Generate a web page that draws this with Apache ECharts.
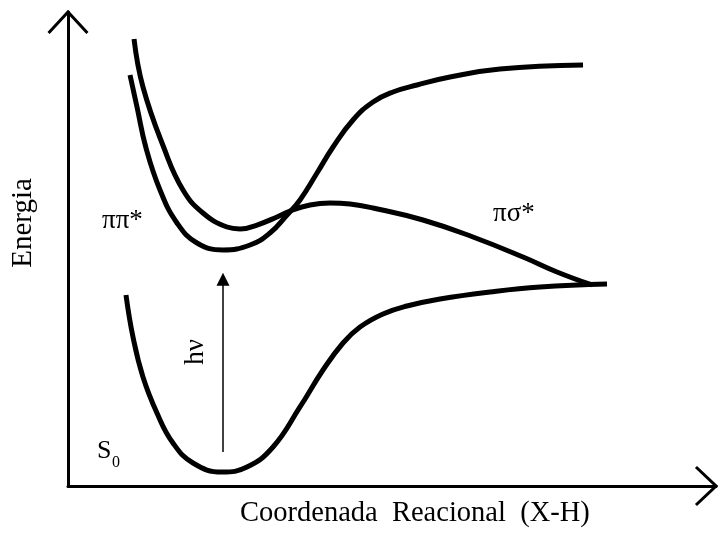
<!DOCTYPE html>
<html>
<head>
<meta charset="utf-8">
<script src="https://cdn.jsdelivr.net/npm/echarts@6/dist/echarts.min.js"></script>
<style>html,body{margin:0;padding:0;background:#fff}#c{width:718px;height:533px}</style>
</head>
<body>
<div id="c"></div>
<script>
// Reaction coordinate (0-100) vs energy (0-100), schematic values
const piSigmaStar = [[10.19,94.30],[11.57,84.18],[14.81,71.31],[17.75,62.45],[20.83,57.59],[24.54,54.64],[26.54,54.22],[29.17,55.06],[32.25,56.75],[34.26,58.02],[37.35,59.28],[40.43,59.70],[43.52,59.49],[47.07,58.65],[54.78,56.12],[62.50,52.53],[70.22,48.31],[75.46,45.15],[80.86,42.41]];
const piPiStar = [[9.57,86.71],[10.65,79.96],[12.04,71.31],[14.20,62.45],[16.82,55.49],[19.91,51.27],[23.92,49.79],[28.09,50.84],[31.17,53.38],[33.80,57.17],[35.80,60.34],[38.43,66.03],[40.90,71.52],[43.98,77.22],[47.07,81.01],[50.15,83.12],[53.86,84.60],[58.95,86.29],[66.67,87.97],[79.48,88.82]];
const groundState = [[8.95,40.30],[10.03,31.43],[11.57,23.00],[13.73,15.40],[16.20,9.07],[19.29,4.85],[23.77,2.95],[27.62,4.01],[31.64,8.23],[35.80,16.67],[39.35,24.47],[42.44,30.17],[45.06,33.54],[48.61,36.29],[52.31,37.97],[57.41,39.45],[65.12,40.93],[72.84,41.98],[83.18,42.62]];
const excitationArrow = [[23.92,7.17],[23.92,43.6]];
const yArrowHead = [[-3,95.57],[0,100],[3,95.57]];
const xArrowHead = [[96.91,4.01],[100,0],[96.91,-4.01]];

const serif = '"Liberation Serif","DejaVu Serif",serif';
const curveStyle = {color:'#000', width:5, cap:'butt'};
function curve(name, data){
  return {name, type:'line', data, smooth:0.45, symbol:'none', showSymbol:false,
    lineStyle:curveStyle, silent:true, animation:false, clip:false, z:3};
}
const chart = echarts.init(document.getElementById('c'), null, {renderer:'canvas'});
chart.setOption({
  backgroundColor:'#fff',
  animation:false,
  grid:{left:68, right:2, top:12, bottom:47},
  xAxis:{type:'value', min:0, max:100, axisLine:{show:true, lineStyle:{color:'#000', width:3}},
    axisTick:{show:false}, axisLabel:{show:false}, splitLine:{show:false}},
  yAxis:{type:'value', min:0, max:100, axisLine:{show:true, lineStyle:{color:'#000', width:3}},
    axisTick:{show:false}, axisLabel:{show:false}, splitLine:{show:false}},
  series:[
    curve('πσ*', piSigmaStar),
    curve('ππ*', piPiStar),
    curve('S0', groundState),
    {type:'lines', coordinateSystem:'cartesian2d', silent:true, animation:false,
      symbol:['none','triangle'], symbolSize:[10,13],
      lineStyle:{color:'#000', width:1.5, opacity:1, curveness:0},
      data:[{coords:excitationArrow}], z:3}
  ],
  graphic:[
    {type:'text', x:23, y:223, rotation:Math.PI/2, style:{text:'Energia', font:'29px '+serif, fill:'#000', textAlign:'center', textVerticalAlign:'middle'}},
    {type:'text', x:240, y:514, style:{text:'Coordenada  Reacional  (X-H)', font:'28.5px '+serif, fill:'#000', textAlign:'left', textVerticalAlign:'middle'}},
    {type:'text', x:102, y:221, style:{text:'ππ*', font:'27px '+serif, fill:'#000', textAlign:'left', textVerticalAlign:'middle'}},
    {type:'text', x:493, y:214, style:{text:'πσ*', font:'27px '+serif, fill:'#000', textAlign:'left', textVerticalAlign:'middle'}},
    {type:'text', x:196, y:352, rotation:Math.PI/2, style:{text:'hν', font:'27px '+serif, fill:'#000', textAlign:'center', textVerticalAlign:'middle'}},
    {type:'text', x:97, y:451, style:{text:'S', font:'26px '+serif, fill:'#000', textAlign:'left', textVerticalAlign:'middle'}},
    {type:'text', x:112, y:463, style:{text:'0', font:'16px '+serif, fill:'#000', textAlign:'left', textVerticalAlign:'middle'}}
  ]
});
// Axis arrowheads, placed through the chart's own scales
function toPx(pts){ return pts.map(p => chart.convertToPixel({gridIndex:0}, p)); }
const headStyle = {stroke:'#000', lineWidth:3, lineJoin:'miter', fill:null};
chart.setOption({graphic:[
  {type:'polyline', id:'yHead', shape:{points:toPx(yArrowHead)}, style:headStyle, silent:true, z:5},
  {type:'polyline', id:'xHead', shape:{points:toPx(xArrowHead)}, style:headStyle, silent:true, z:5}
]});
</script>
</body>
</html>
